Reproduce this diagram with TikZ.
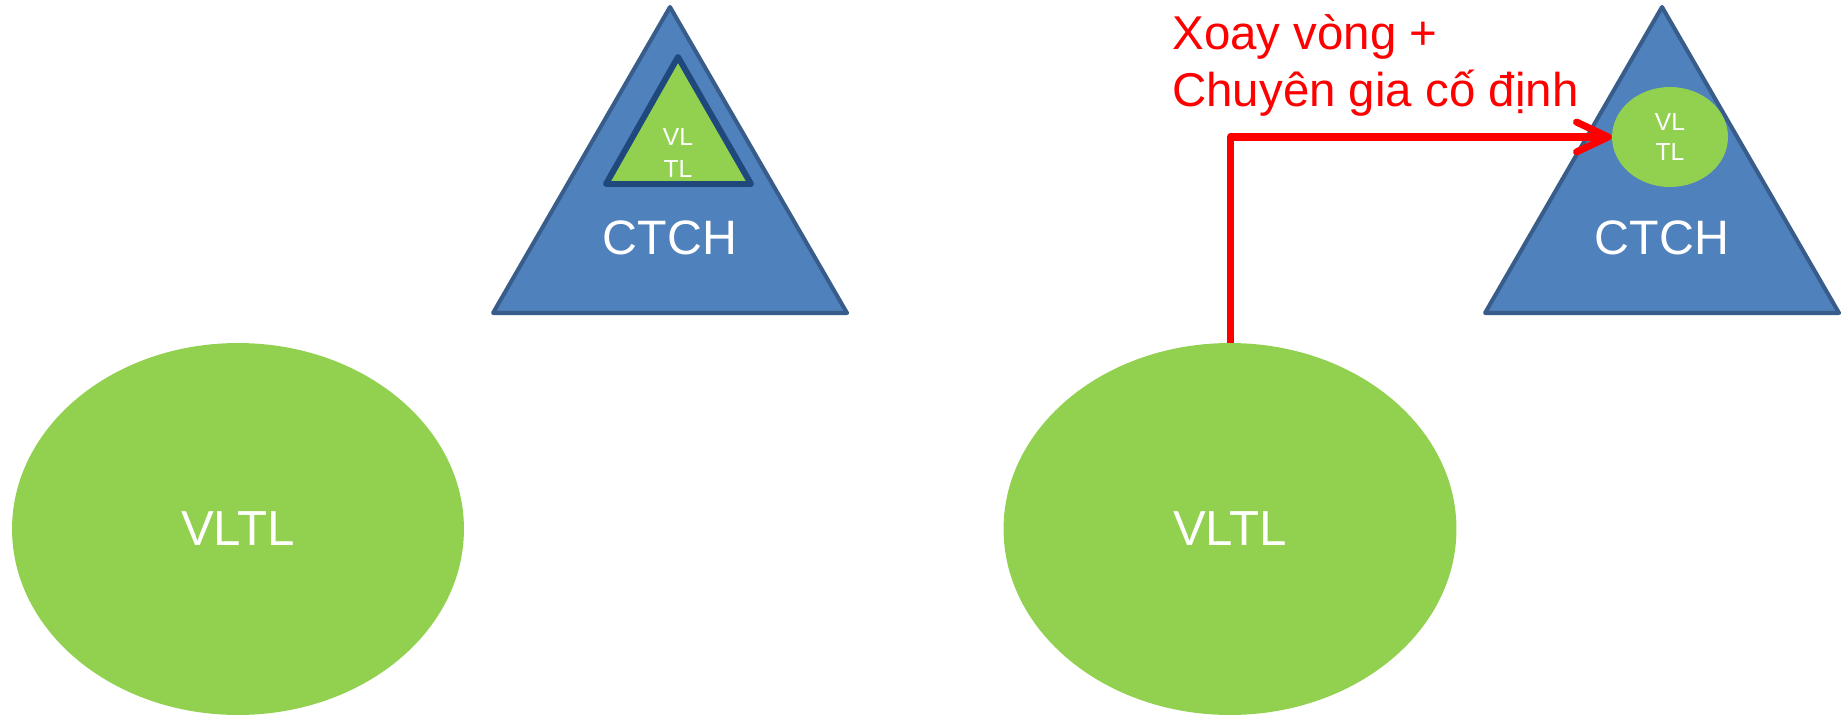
\documentclass[tikz,border=0pt]{standalone}
\usepackage{fontspec}
\setmainfont{Liberation Sans}
\usetikzlibrary{shapes.geometric,arrows.meta}
\definecolor{ppblue}{HTML}{4F81BD}
\definecolor{ppedge}{HTML}{385D8A}
\definecolor{ppdark}{HTML}{1F497D}
\definecolor{ppgreen}{HTML}{92D050}

\begin{document}
\begin{tikzpicture}[x=0.02cm,y=-0.02cm,line join=round,line cap=round]
	\tikzstyle{tam}=[fill=ppblue,draw=ppedge,line width=2.3pt];
	\tikzstyle{nho}=[fill=ppgreen,draw=ppdark,line width=3.4pt];
	\tikzstyle{vong}=[ellipse,fill=ppgreen,inner sep=0,text=white,align=center];
	\tikzstyle{chu}=[text=white,inner sep=0.1em,align=center];
	\useasboundingbox (0,0) rectangle (1848,716);
	%% triangles
	\draw[tam] (670,7) -- (847,313) -- (493,313) -- cycle;
	\draw[nho] (678,57) -- (751,184) -- (606,184) -- cycle;
	\draw[tam] (1662,7) -- (1839,313) -- (1485,313) -- cycle;
	%% labels
	\node[chu,font=\fontsize{14}{18}\selectfont] (vl) at (678,153) {VL\\TL};
	\node[chu,font=\fontsize{27.5}{33}\selectfont] (ct1) at (670,238) {CTCH};
	\node[chu,font=\fontsize{27.5}{33}\selectfont] (ct2) at (1662,238) {CTCH};
	%% circles
	\node[vong,minimum width=9.04cm,minimum height=7.44cm,font=\fontsize{28}{34}\selectfont] (A) at (238,529) {VLTL};
	\node[vong,minimum width=9.06cm,minimum height=7.44cm,font=\fontsize{28}{34}\selectfont] (B) at (1230,529) {VLTL};
	\node[vong,minimum width=2.32cm,minimum height=2cm,font=\fontsize{14}{17}\selectfont] (C) at (1670,137) {VL\\TL};
	%% connection
	\node[red,anchor=base west,align=left,inner sep=0,font=\fontsize{27}{33}\selectfont] (note) at (1172,107) {Xoay vòng +\\Chuyên gia cố định};
	\draw[red,line width=4pt,line cap=butt,-{Straight Barb[length=18pt,width=17pt,round]}] (B.north) |- (C.west);
\end{tikzpicture}
\end{document}
